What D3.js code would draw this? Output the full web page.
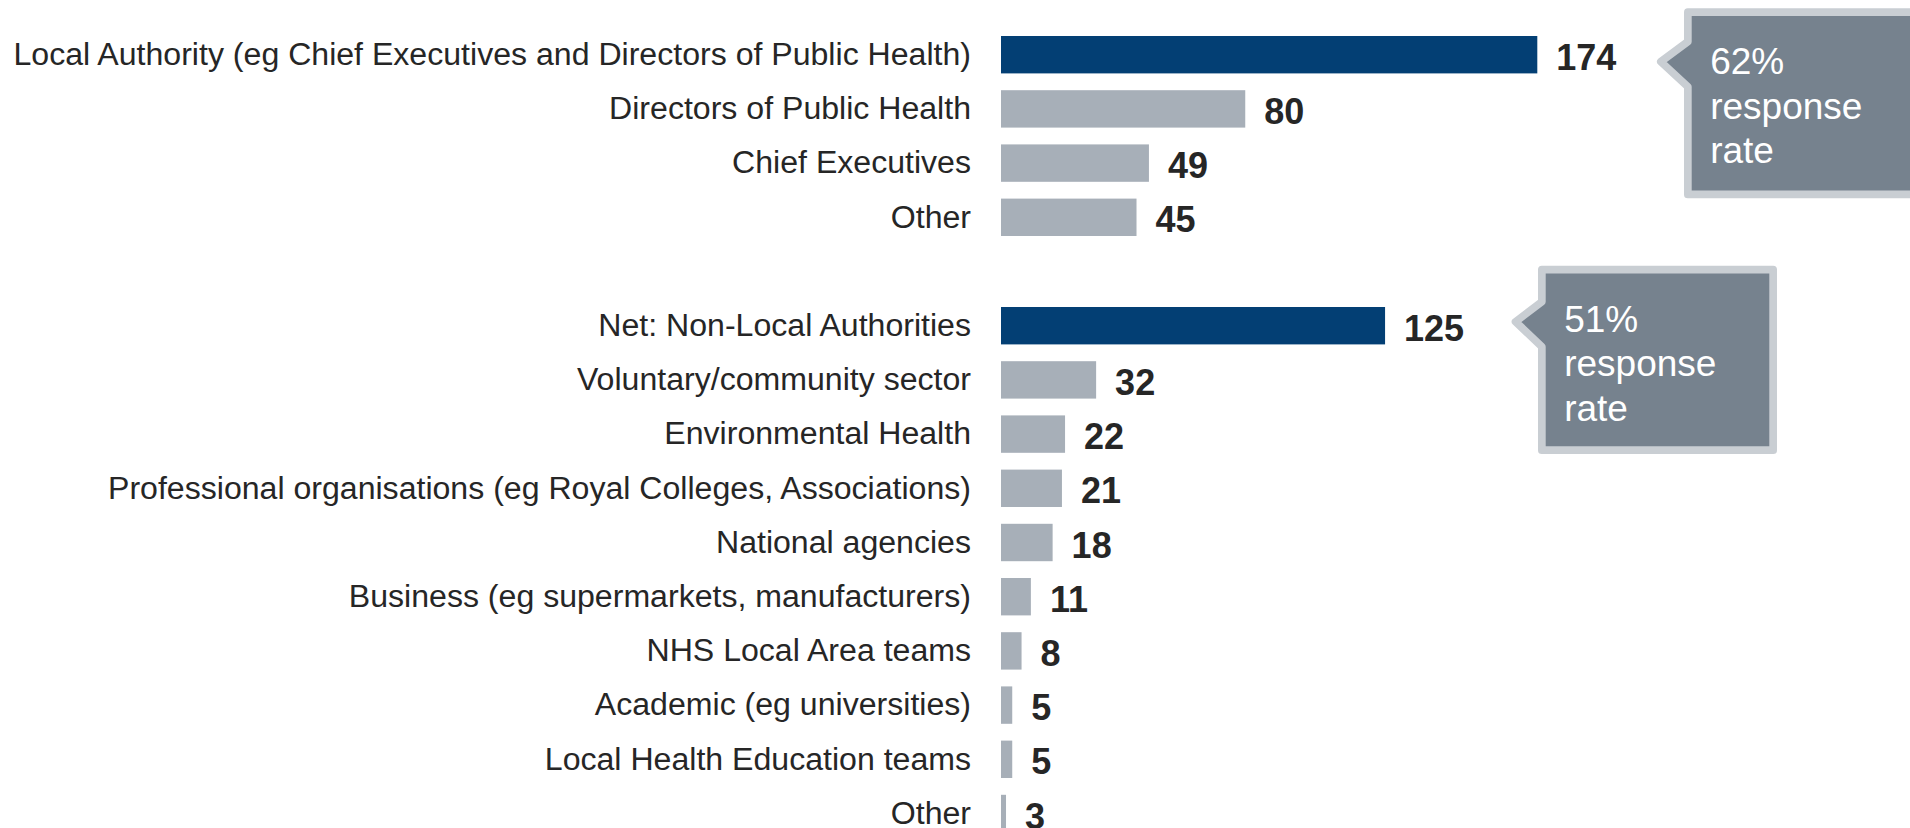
<!DOCTYPE html>
<html>
<head>
<meta charset="utf-8">
<script src="https://cdn.jsdelivr.net/npm/d3@7"></script>
<style>
  html, body { margin: 0; padding: 0; background: #ffffff; }
  svg { display: block; }
</style>
</head>
<body>
<svg id="chart" width="1910" height="828"></svg>
<script>
// Respondents by organisation type
const localCategories = [
  "Local Authority (eg Chief Executives and Directors of Public Health)",
  "Directors of Public Health",
  "Chief Executives",
  "Other"
];
const localValues = [174, 80, 49, 45];

const otherCategories = [
  "Net: Non-Local Authorities",
  "Voluntary/community sector",
  "Environmental Health",
  "Professional organisations (eg Royal Colleges, Associations)",
  "National agencies",
  "Business (eg supermarkets, manufacturers)",
  "NHS Local Area teams",
  "Academic (eg universities)",
  "Local Health Education teams",
  "Other"
];
const otherValues = [125, 32, 22, 21, 18, 11, 8, 5, 5, 3];

// Response-rate callouts, one per group
const calloutRates = ["62%", "51%"];
const calloutLines = ["response", "rate"];

// Build rows: group A, a blank spacer row, group B
const rows = [];
localCategories.forEach((c, i) => rows.push({ key: "a" + i, label: c, value: localValues[i], net: i === 0 }));
rows.push({ key: "gap", label: null, value: null });
otherCategories.forEach((c, i) => rows.push({ key: "b" + i, label: c, value: otherValues[i], net: i === 0 }));
const data = rows.filter(d => d.value !== null);

const svg = d3.select("#chart");

const x = d3.scaleLinear()
  .domain([0, d3.max(data, d => d.value)])
  .range([996.7, 1537.3]);

const y = d3.scaleBand()
  .domain(rows.map(d => d.key))
  .range([27.6, 840.6])
  .paddingInner(0.31)
  .paddingOuter(0.155);

const barInset = 4.3;
const navy = "#033f74";
const grey = "#a7afb8";
const ink = "#262626";
const font = "'Liberation Sans', Arial, Helvetica, sans-serif";

// Bars
svg.append("g")
  .selectAll("rect")
  .data(data)
  .join("rect")
  .attr("x", x(0) + barInset)
  .attr("y", d => y(d.key))
  .attr("width", d => Math.max(0, x(d.value) - x(0) - barInset))
  .attr("height", y.bandwidth())
  .attr("fill", d => d.net ? navy : grey);

// Category labels
svg.append("g")
  .selectAll("text")
  .data(data)
  .join("text")
  .attr("x", 971)
  .attr("y", d => y(d.key) + y.bandwidth() / 2 + 10.3)
  .attr("text-anchor", "end")
  .attr("font-family", font)
  .attr("font-size", 32.1)
  .attr("fill", ink)
  .text(d => d.label);

// Value labels
svg.append("g")
  .selectAll("text")
  .data(data)
  .join("text")
  .attr("x", d => x(d.value) + 19)
  .attr("y", d => y(d.key) + y.bandwidth() / 2 + 15)
  .attr("font-family", font)
  .attr("font-size", 36)
  .attr("font-weight", "bold")
  .attr("fill", ink)
  .text(d => d.value);

// Callout boxes with a left-pointing tab
const callouts = [
  { rate: calloutRates[0], left: 1684, top: 8.3, width: 239, height: 190, tipX: 1657, tipY: 61.7 },
  { rate: calloutRates[1], left: 1538, top: 265.7, width: 239, height: 188.3, tipX: 1511.7, tipY: 321.7 }
];
const border = 7.7;
const half = border / 2;

callouts.forEach(c => {
  const l = c.left + half, t = c.top + half;
  const r = c.left + c.width - half, b = c.top + c.height - half;
  const tx = c.tipX + half;
  const p = d3.path();
  p.moveTo(l, t);
  p.lineTo(r, t);
  p.lineTo(r, b);
  p.lineTo(l, b);
  p.lineTo(l, c.tipY + 25);
  p.lineTo(tx, c.tipY);
  p.lineTo(l, c.tipY - 20);
  p.closePath();

  const g = svg.append("g");
  g.append("path")
    .attr("d", p.toString())
    .attr("fill", "#76828e")
    .attr("stroke", "#c9ced3")
    .attr("stroke-width", border)
    .attr("stroke-linejoin", "round");

  const lines = [c.rate].concat(calloutLines);
  g.append("g")
    .selectAll("text")
    .data(lines)
    .join("text")
    .attr("x", c.left + border + 18.5)
    .attr("y", (d, i) => c.top + 66 + i * 44.5)
    .attr("font-family", font)
    .attr("font-size", 37)
    .attr("fill", "#ffffff")
    .text(d => d);
});
</script>
</body>
</html>
